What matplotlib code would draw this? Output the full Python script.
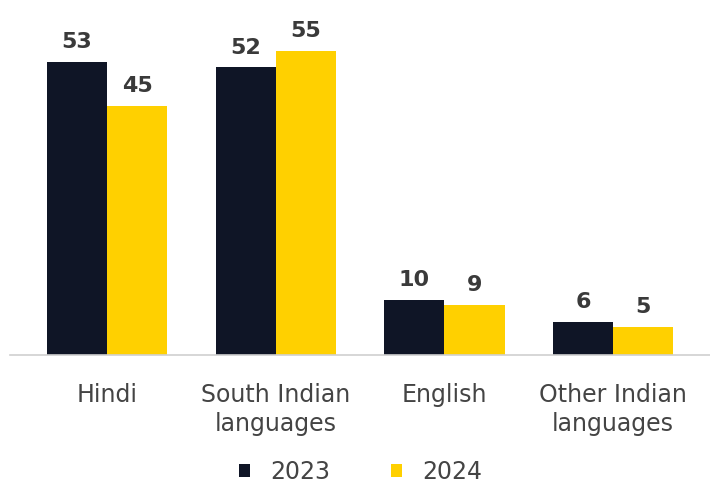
import matplotlib
matplotlib.use("Agg")
import matplotlib.pyplot as plt
import numpy as np

# data
categories = ["Hindi", "South Indian\nlanguages", "English", "Other Indian\nlanguages"]
years = ["2023", "2024"]
values_2023 = [53, 52, 10, 6]
values_2024 = [45, 55, 9, 5]

navy = "#0f1526"
yellow = "#ffd000"
text_col = "#3a3a3a"

plt.rcParams['font.family'] = ['DejaVu Sans']

fig = plt.figure(figsize=(7.1, 4.84), dpi=100)
ax = fig.add_axes([0.0141, 0.2665, 0.9859, 0.7335])

x = np.arange(len(categories))
w = 0.356
b1 = ax.bar(x - w/2, values_2023, w, color=navy, label=years[0])
b2 = ax.bar(x + w/2, values_2024, w, color=yellow, label=years[1])

# value labels above each bar
for bars in (b1, b2):
    for rect in bars:
        ax.annotate(f"{rect.get_height():g}",
                    (rect.get_x() + rect.get_width()/2, rect.get_height()),
                    xytext=(0, 10), textcoords="offset points",
                    ha="center", va="baseline", fontsize=16, fontweight="bold",
                    color=text_col)

ax.set_xlim(-0.575, 3.574)
ax.set_ylim(0, 64.2)
for s in ["top", "right", "left"]:
    ax.spines[s].set_visible(False)
ax.spines["bottom"].set_color("#d0d0d0")
ax.spines["bottom"].set_linewidth(1.2)
ax.set_yticks([])
ax.set_xticks(x)
ax.set_xticklabels(categories, fontsize=17, color="#444444", linespacing=1.3)
ax.tick_params(axis="x", length=0, pad=20)

fig.legend(handles=[b1, b2], labels=years, loc="center", bbox_to_anchor=(0.508, 0.025),
           ncol=2, frameon=False, fontsize=17, labelcolor="#444444",
           handlelength=0.47, handleheight=0.45, handletextpad=0.85, columnspacing=2.6)

fig.savefig("out.png", dpi=100)
